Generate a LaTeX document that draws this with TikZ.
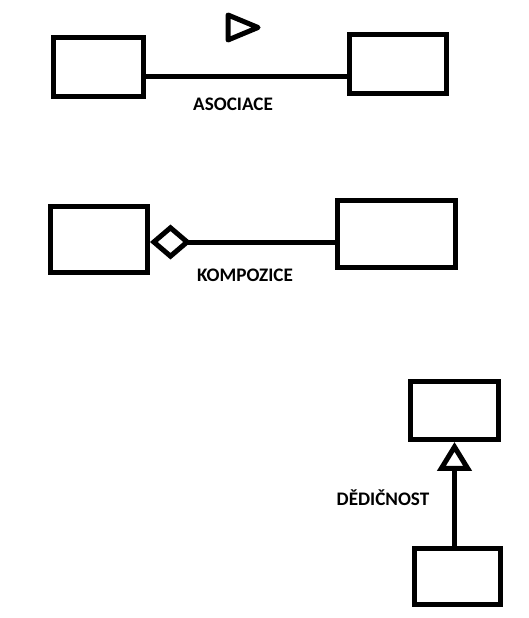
\documentclass[tikz,border=0pt]{standalone}
\usepackage{fontspec}
\setmainfont{Carlito}
\usetikzlibrary{arrows.meta}

\begin{document}
\begin{tikzpicture}[x=0.02cm, y=-0.02cm,
    box/.style={draw, line width=0.1cm, inner sep=0pt},
    conn/.style={line width=0.1cm},
    caption/.style={font=\fontsize{10.9}{12}\selectfont\bfseries, inner sep=0pt}]

    \useasboundingbox (0,0) rectangle (528,618);

    % asociace
    \node[box, minimum width=1.8cm, minimum height=1.18cm] (a1) at (98.5,67) {};
    \node[box, minimum width=1.94cm, minimum height=1.18cm] (a2) at (398,64) {};
    \path[draw, conn] ([yshift=-0.2cm]a1.east) -- ([yshift=-0.2cm]a1.east -| a2.west);
    \path[draw, line width=0.1cm, line join=round] (228,15) -- (258,27.5) -- (228,40) -- cycle;
    \node[caption] (asoc) at (233,104) {ASOCIACE};

    % kompozice
    \node[box, minimum width=1.94cm, minimum height=1.32cm] (k1) at (99,239.5) {};
    \node[box, minimum width=2.36cm, minimum height=1.34cm] (k2) at (396.5,234) {};
    \path[draw, conn, {Diamond[open, length=0.82cm, width=0.7cm]}-] ([yshift=-0.05cm]k1.east) -- ([yshift=-0.05cm]k1.east -| k2.west);
    \node[caption] (komp) at (245,275.5) {KOMPOZICE};

    % dedicnost
    \node[box, minimum width=1.76cm, minimum height=1.16cm] (d1) at (454.5,410.5) {};
    \node[box, minimum width=1.72cm, minimum height=1.12cm] (d2) at (457.5,576.5) {};
    \path[draw, conn, -{Triangle[open, length=0.58cm, width=0.68cm]}] (d2.north -| d1.south) -- (d1.south);
    \node[caption] (dedi) at (383,497.5) {DĚDIČNOST};

\end{tikzpicture}
\end{document}
